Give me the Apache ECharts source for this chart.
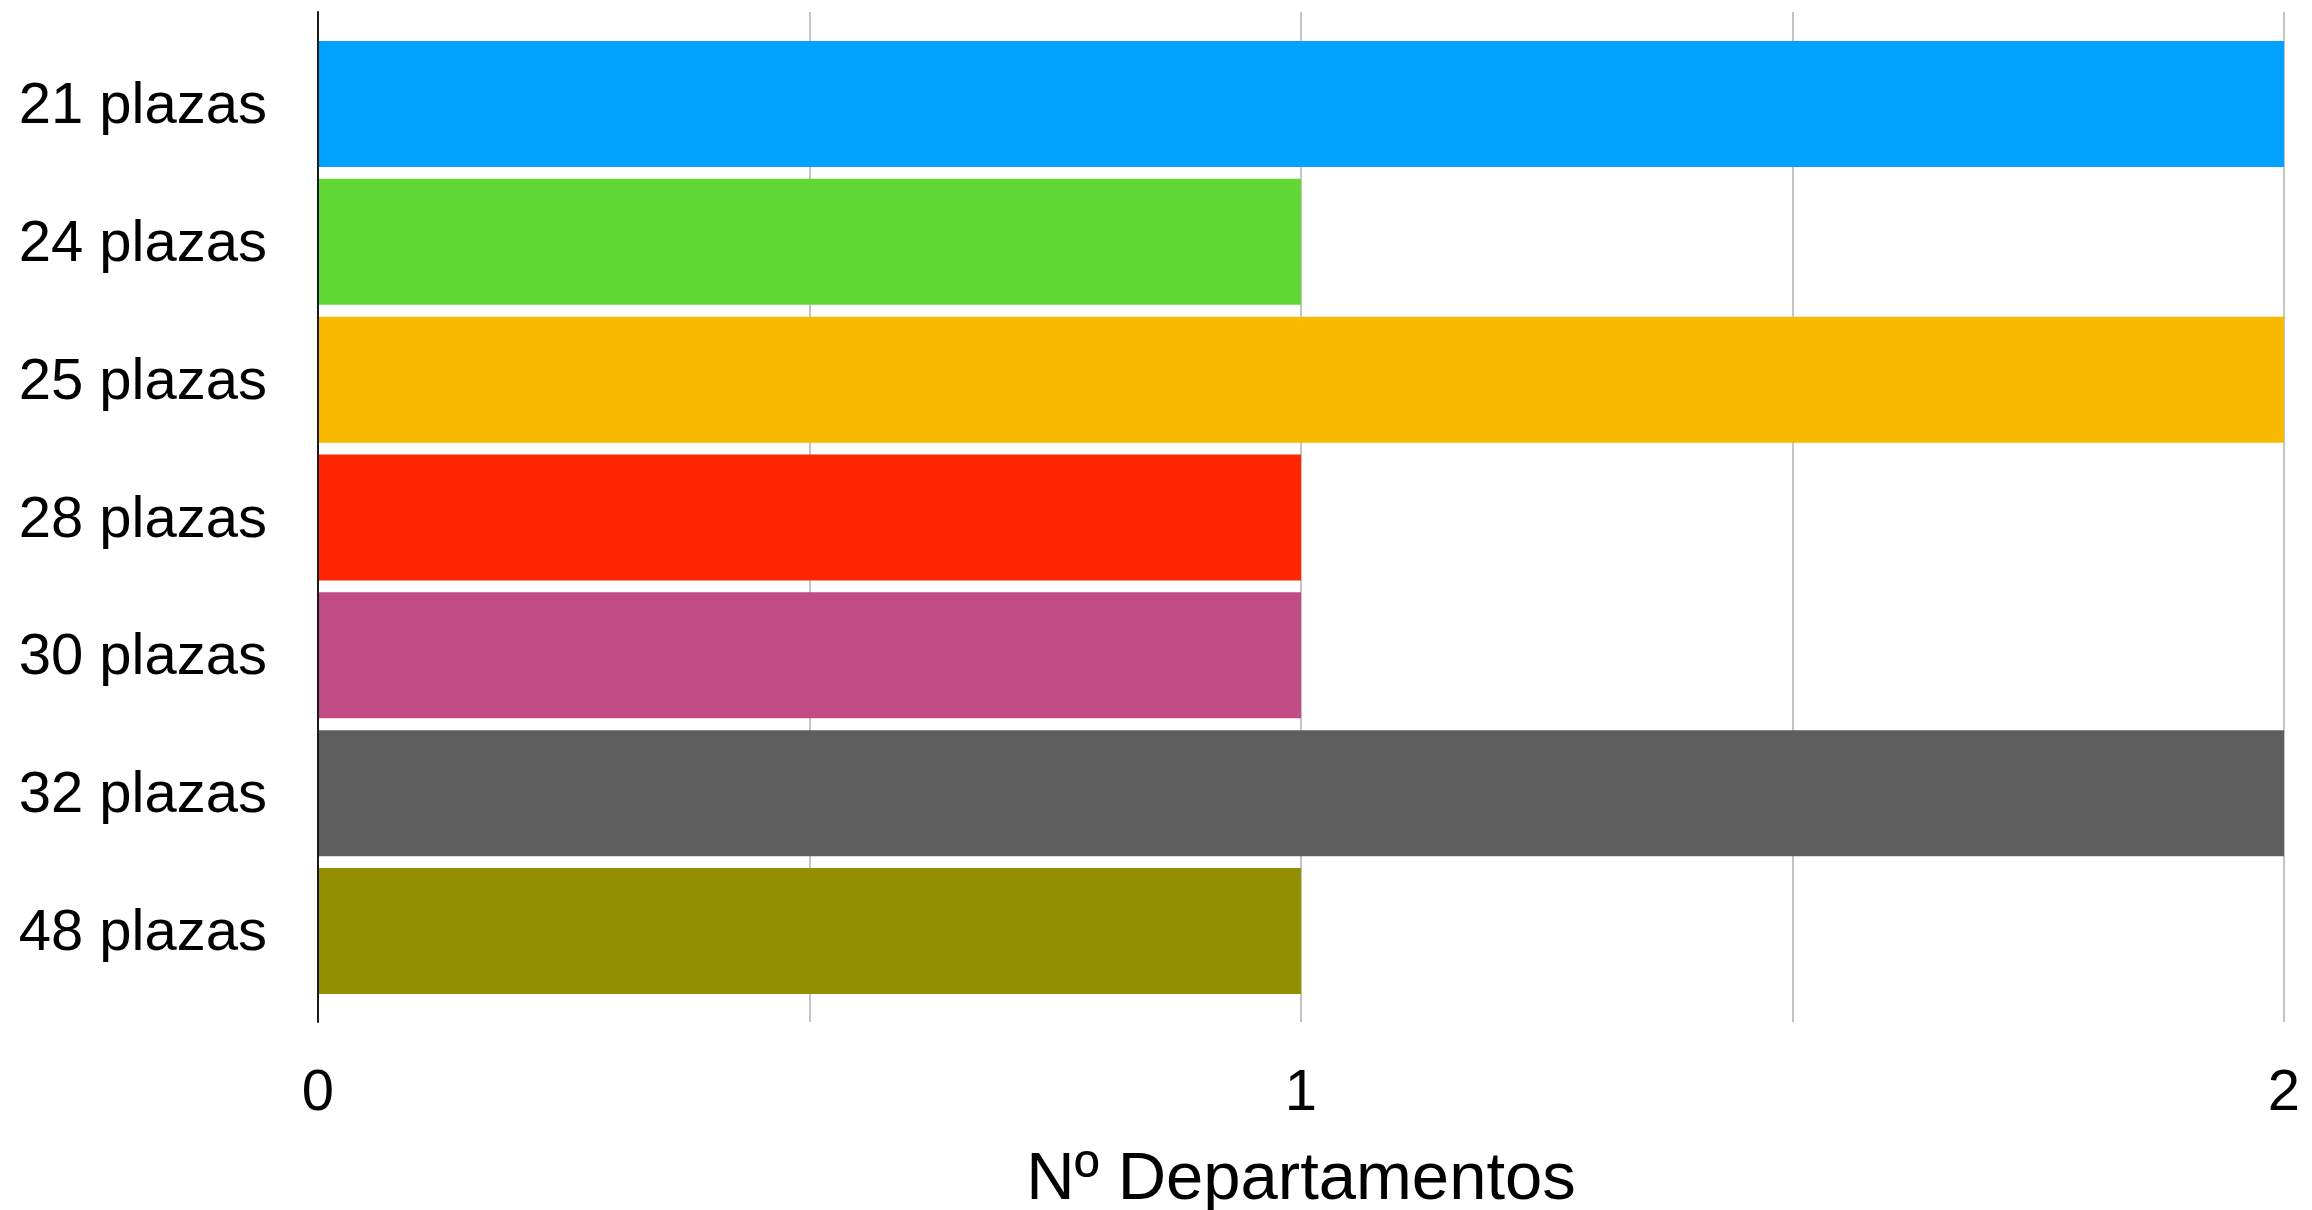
<!DOCTYPE html>
<html>
<head>
<meta charset="utf-8">
<script src="https://cdn.jsdelivr.net/npm/echarts@6/dist/echarts.min.js"></script>
<style>html,body{margin:0;padding:0;background:#fff}#c{width:2312px;height:1210px}</style>
</head>
<body>
<div id="c"></div>
<script>
const categories = ['21 plazas', '24 plazas', '25 plazas', '28 plazas', '30 plazas', '32 plazas', '48 plazas'];
const values = [2, 1, 2, 1, 1, 2, 1];
const colors = ['#00a2ff', '#61d836', '#f8ba00', '#ff2600', '#c04b85', '#5e5e5e', '#929000'];
const axisTitle = 'Nº Departamentos';
const tickLabels = ['0', '1', '2'];

const FONT = 'Liberation Sans, Arial, Helvetica, sans-serif';
const chart = echarts.init(document.getElementById('c'));
chart.setOption({
  animation: false,
  grid: [
    { left: 318, right: 28, top: 12, bottom: 188, containLabel: false, outerBoundsMode: 'none' },
    { left: 318, right: 28, top: 35, height: 965, containLabel: false, outerBoundsMode: 'none' }
  ],
  xAxis: [
    {
      gridIndex: 0, type: 'value', min: 0, max: 2, interval: 0.5,
      axisLine: { show: false }, axisTick: { show: false },
      splitLine: { show: true, lineStyle: { color: '#c4c4c4', width: 2 } },
      axisLabel: {
        fontSize: 58, fontFamily: FONT, color: '#000', margin: 43,
        formatter: v => (Number.isInteger(v) ? tickLabels[v] : '')
      },
      name: axisTitle, nameLocation: 'middle', nameGap: 125,
      nameTextStyle: { fontSize: 67, fontFamily: FONT, color: '#000' }
    },
    {
      gridIndex: 1, type: 'value', min: 0, max: 2, show: false,
      splitLine: { show: false }
    }
  ],
  yAxis: [
    {
      gridIndex: 0, type: 'category', data: categories, inverse: true, z: 5,
      axisLine: { show: true, lineStyle: { color: '#1a1a1a', width: 2 } },
      axisTick: { show: false }, axisLabel: { show: false }, splitLine: { show: false }
    },
    {
      gridIndex: 1, type: 'category', data: categories, inverse: true,
      axisLine: { show: false }, axisTick: { show: false },
      axisLabel: {
        fontSize: 58, fontFamily: FONT, color: '#000', margin: 51,
        formatter: v => '{a|' + v + '}',
        rich: { a: { fontSize: 58, fontFamily: FONT, color: '#000', padding: [6, 0, 0, 0] } }
      }
    }
  ],
  series: [{
    type: 'bar', xAxisIndex: 1, yAxisIndex: 1,
    barCategoryGap: '8.6%',
    data: values.map((v, i) => ({ value: v, itemStyle: { color: colors[i] } }))
  }]
});
</script>
</body>
</html>
